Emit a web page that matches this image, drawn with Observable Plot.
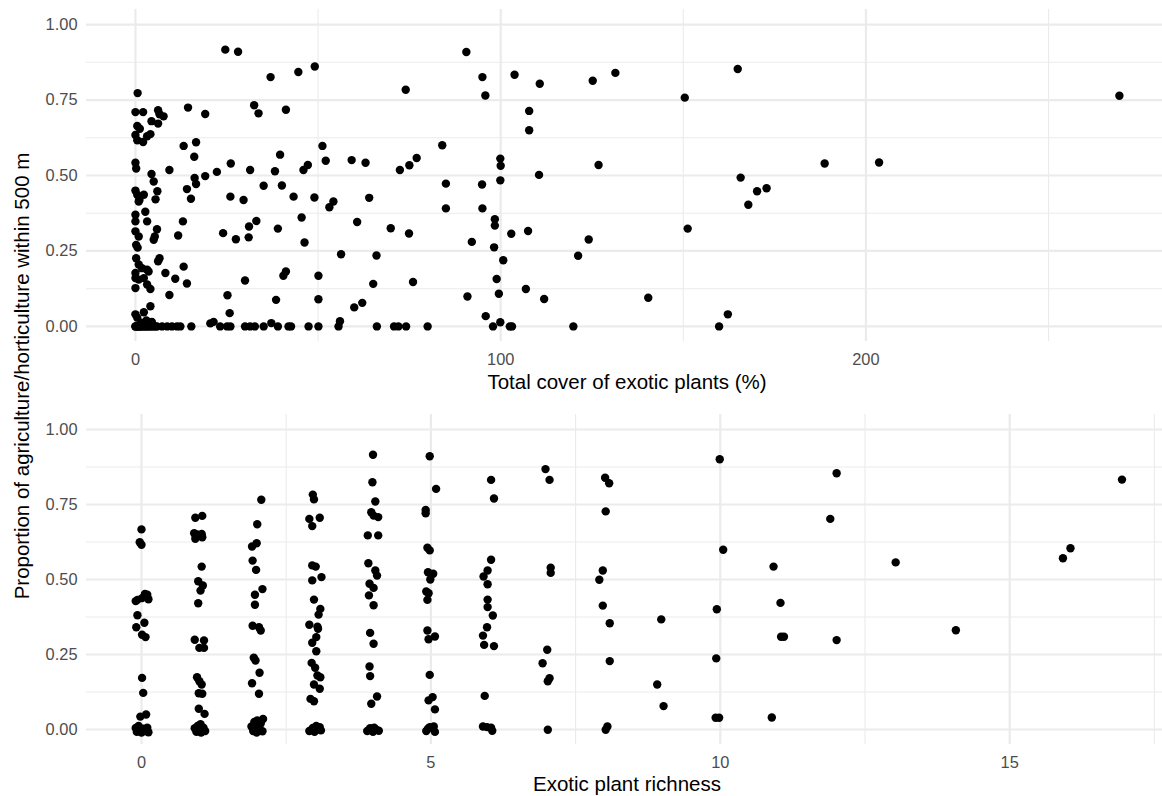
<!DOCTYPE html>
<html><head><meta charset="utf-8">
<script src="https://cdn.jsdelivr.net/npm/d3@7"></script>
<script src="https://cdn.jsdelivr.net/npm/@observablehq/plot@0.6"></script>
<style>
body{margin:0;background:#fff;}
#wrap{position:relative;width:1162px;height:796px;overflow:hidden;background:#fff;font-family:"Liberation Sans",Arial,sans-serif;}
.panel{position:absolute;left:0;}
.xt{position:absolute;font-size:20.5px;color:#000;transform:translate(-50%,-50%);white-space:nowrap;line-height:1;}
.yt{position:absolute;font-size:20.5px;color:#000;transform:translate(-50%,-50%) rotate(-90deg);white-space:nowrap;line-height:1;}
</style></head><body>
<div id="wrap">
  <div id="top" class="panel" style="top:0px"></div>
  <div id="bot" class="panel" style="top:400px"></div>
  <div class="xt" style="left:627px;top:382px">Total cover of exotic plants (%)</div>
  <div class="xt" style="left:627px;top:784px">Exotic plant richness</div>
  <div class="yt" style="left:22px;top:376px">Proportion of agriculture/horticulture within 500 m</div>
</div>
<script>
// ---- Top panel: total cover of exotic plants (%) vs proportion ----
const coverPct = [
  0.6, 24.6, 28.1, 0, 2.1, 6.2, 6.6, 7.7, 6.2, 4.4,
  14.4, 19.1, 32.5, 33.7, 0.5, 1.2, 0, 0.5, 2.1, 3.2,
  4.1, 13.2, 16.6, 16.1, 0, 0.2, 4.4, 9.3, 16.2, 19.1,
  22.3, 26.1, 31.4, 5.0, 14.1, 16.6, 0, 0.5, 1.1, 2.3,
  0.9, 6.0, 5.5, 15.2, 26.0, 29.6, 0, 0, 2.7, 3.2,
  13.0, 0, 0.9, 5.0, 5.3, 5.9, 11.7, 24.0, 27.5, 31.0,
  31.1, 0.2, 0.6, 0.2, 0.9, 1.8, 3.2, 3.6, 6.2, 6.6,
  13.2, 8.2, 10.9, 14.1, 0, 0, 0.9, 2.3, 0, 3.2,
  4.1, 30.0, 9.3, 25.2, 25.8, 4.1, 2.3, 0, 0.5, 1.5,
  3.0, 4.5, 0, 0, 0.3, 0.5, 0.8, 1.0, 1.3, 1.6,
  2.0, 2.4, 2.8, 3.2, 3.6, 4.0, 4.5, 5.0, 5.5, 5.9,
  7.3, 8.7, 10.0, 11.4, 12.3, 15.3, 20.5, 21.4, 23.2, 25.1,
  26.0, 30.0, 31.4, 32.7, 37.0, 44.6, 49.1, 74.0, 41.2, 51.2,
  39.6, 38.2, 46.0, 47.2, 52.1, 59.2, 63.0, 72.4, 75.0, 77.0,
  35.1, 40.1, 43.3, 49.0, 53.1, 54.2, 64.0, 33.1, 39.0, 45.5,
  46.3, 60.7, 69.9, 74.9, 56.3, 66.0, 40.5, 41.2, 50.1, 65.1,
  76.0, 38.5, 50.1, 59.9, 62.1, 37.2, 56.0, 35.1, 39.0, 41.9,
  42.6, 47.4, 50.1, 55.6, 66.1, 70.8, 72.0, 74.1, 80.0, 90.6,
  95.0, 95.8, 103.8, 110.7, 125.2, 131.4, 107.8, 107.8, 84.0, 99.9,
  100.0, 99.9, 110.5, 126.8, 85.0, 94.9, 85.0, 95.0, 98.4, 98.4,
  102.9, 107.5, 92.1, 98.2, 124.1, 121.2, 100.7, 98.9, 99.5, 90.9,
  106.9, 111.9, 95.9, 99.9, 97.9, 102.5, 103.1, 119.9, 164.9, 150.4,
  269.4, 188.7, 203.6, 165.7, 170.2, 172.8, 167.8, 151.2, 140.4, 162.2,
  159.8
];
const coverProp = [
  .773, .917, .910, .710, .710, .716, .703, .696, .672, .680,
  .725, .704, .733, .706, .664, .655, .634, .617, .611, .630,
  .637, .598, .610, .562, .542, .523, .505, .518, .492, .498,
  .512, .540, .518, .480, .455, .472, .450, .436, .419, .436,
  .414, .448, .421, .423, .430, .419, .370, .348, .380, .348,
  .348, .315, .298, .287, .298, .322, .301, .309, .289, .295,
  .331, .270, .261, .226, .205, .193, .188, .182, .216, .226,
  .198, .177, .158, .142, .177, .160, .155, .160, .127, .139,
  .124, .152, .104, .103, .044, .067, .047, .040, .029, .012,
  .020, .015, 0, 0, 0, 0, 0, 0, 0, 0,
  0, 0, 0, 0, 0, 0, 0, 0, 0, 0,
  0, 0, 0, 0, 0, 0, .010, .015, 0, 0,
  0, 0, 0, 0, .826, .843, .861, .784, .718, .598,
  .569, .514, .518, .535, .549, .551, .542, .518, .534, .558,
  .466, .467, .430, .427, .395, .414, .426, .349, .324, .361,
  .278, .346, .325, .308, .239, .235, .168, .182, .168, .141,
  .147, .088, .090, .063, .078, .011, .017, 0, 0, 0,
  0, 0, 0, 0, 0, 0, 0, 0, 0, .909,
  .826, .765, .834, .804, .814, .840, .714, .650, .600, .556,
  .532, .484, .502, .535, .473, .470, .391, .391, .355, .334,
  .307, .316, .280, .262, .288, .234, .219, .157, .108, .099,
  .124, .091, .034, .014, 0, 0, 0, 0, .853, .758,
  .764, .540, .543, .493, .448, .458, .403, .324, .095, .040,
  0
];

// ---- Bottom panel: exotic plant richness (jittered as drawn) vs proportion ----
const richness = [
  0.00, -0.03, 0.00, 0.06, 0.10, -0.07, -0.10, 0.01, 0.12, -0.07,
  0.05, -0.09, 0.01, 0.07, 0.01, 0.03, 0.08, -0.02, -0.10, -0.05,
  0.03, 0.10, -0.08, 0.00, 0.06, 0.12,
  0.93, 1.05, 0.91, 0.96, 1.04, 0.93, 1.05, 1.04, 0.98, 1.06,
  1.02, 0.98, 0.92, 1.08, 1.00, 1.08, 0.96, 1.00, 1.04, 0.99,
  1.05, 0.99, 1.09, 0.92, 0.97, 1.02, 1.07, 0.95, 1.03, 1.10,
  2.07, 2.00, 1.91, 1.99, 1.92, 1.98, 1.96, 2.09, 1.96, 1.92,
  2.03, 2.06, 1.94, 1.97, 2.04, 1.91, 2.03, 1.90, 1.95, 2.00,
  2.06, 2.10, 1.93, 1.99, 2.04, 2.09, 1.96,
  2.96, 2.98, 2.90, 3.08, 2.95, 2.95, 3.01, 3.11, 2.95, 2.98,
  3.09, 3.06, 2.90, 3.04, 3.05, 3.02, 2.95, 3.02, 2.94, 3.00,
  3.04, 3.09, 2.98, 3.08, 2.92, 2.98, 2.90, 2.96, 3.02, 3.08,
  3.10, 2.99,
  4.00, 3.99, 4.04, 3.97, 4.01, 4.09, 3.91, 4.09, 3.92, 4.04,
  4.07, 3.94, 4.01, 3.93, 4.01, 3.95, 4.01, 3.94, 3.95, 4.07,
  3.97, 3.90, 3.95, 4.00, 4.05, 4.10, 4.02,
  4.98, 5.09, 4.91, 4.91, 4.94, 4.98, 4.95, 5.04, 4.99, 4.92,
  4.96, 4.94, 4.94, 5.07, 4.96, 4.98, 4.96, 5.03, 5.07, 4.92,
  4.98, 5.05, 5.07, 4.95,
  6.04, 6.09, 6.04, 5.98, 5.91, 5.98, 5.98, 5.98, 6.07, 5.97,
  5.90, 5.92, 6.09, 5.93, 5.90, 5.97, 6.04, 6.06,
  6.98, 7.05, 7.07, 7.07, 7.01, 6.93, 7.05, 7.02, 7.02,
  8.01, 8.08, 8.02, 7.97, 7.91, 7.97, 8.09, 8.09, 8.05, 8.02,
  9.99, 12.01, 16.94, 11.90, 10.05, 16.05, 15.92, 10.92, 13.03, 11.04,
  9.94, 8.98, 11.05, 11.10, 12.01, 14.07, 9.93, 8.91, 9.02, 9.92,
  9.98, 10.89
];
const richProp = [
  .667, .624, .616, .452, .449, .432, .428, .438, .434, .381,
  .356, .341, .316, .308, .172, .122, .050, .043, .005, .012,
  .003, .006, -.008, -.010, -.005, -.009,
  .706, .712, .654, .650, .652, .636, .641, .543, .494, .480,
  .463, .421, .299, .297, .272, .272, .174, .161, .150, .121,
  .119, .069, .052, .004, .012, .018, .006, -.008, -.010, -.005,
  .766, .684, .610, .621, .563, .532, .449, .468, .416, .346,
  .341, .330, .239, .230, .189, .154, .119, .010, .025, .030,
  .020, .035, -.005, -.010, .000, -.006, .015,
  .783, .767, .702, .706, .678, .547, .543, .508, .497, .433,
  .402, .383, .349, .343, .336, .308, .289, .261, .222, .206,
  .180, .174, .150, .136, .102, .094, -.005, .005, .012, .008,
  -.003, -.008,
  .916, .824, .760, .724, .713, .708, .647, .647, .554, .530,
  .513, .486, .472, .447, .414, .322, .286, .210, .178, .110,
  .086, -.005, .004, -.008, .000, -.004, .006,
  .911, .802, .732, .721, .606, .597, .524, .519, .500, .460,
  .454, .432, .330, .310, .301, .182, .097, .108, .067, -.005,
  .008, .010, -.008, .003,
  .832, .770, .566, .530, .510, .484, .433, .408, .380, .341,
  .313, .282, .278, .112, .010, .008, .006, -.004,
  .868, .832, .539, .522, .266, .221, .171, .161, -.001,
  .839, .821, .727, .530, .499, .413, .354, .228, .010, -.001,
  .901, .854, .833, .702, .599, .604, .571, .543, .557, .422,
  .401, .367, .309, .309, .298, .331, .237, .150, .078, .039,
  .039, .040
];

const yMajor = [0, 0.25, 0.5, 0.75, 1];
const yMinor = [0.125, 0.375, 0.625, 0.875];
const coverMajor = [0, 100, 200];
const coverMinor = [50, 150, 250];
const richMajor = [0, 5, 10, 15];
const richMinor = [2.5, 7.5, 12.5, 17.5];

const fmt2 = d3.format(".2f");
const GRID = "#ebebeb";

function panel(xs, ys, o) {
  const data = xs.map((x, i) => ({x, y: ys[i]}));
  return Plot.plot({
    width: 1162,
    height: o.height,
    marginTop: o.mt,
    marginBottom: o.mb,
    marginLeft: 86,
    marginRight: 0,
    style: {fontFamily: '"Liberation Sans", Arial, sans-serif', color: "#4d4d4d", background: "white"},
    x: {domain: o.xdom, label: null},
    y: {domain: [-0.05, 1.05], label: null},
    marks: [
      Plot.gridX(o.xminor, {stroke: GRID, strokeOpacity: 1, strokeWidth: 1.1}),
      Plot.gridY(yMinor, {stroke: GRID, strokeOpacity: 1, strokeWidth: 1.1}),
      Plot.gridX(o.xmajor, {stroke: GRID, strokeOpacity: 1, strokeWidth: 2.2}),
      Plot.gridY(yMajor, {stroke: GRID, strokeOpacity: 1, strokeWidth: 2.2}),
      Plot.axisX(o.xmajor, {tickSize: 0, tickPadding: 12, fontSize: 16.4, label: null}),
      Plot.axisY(yMajor, {tickSize: 0, tickPadding: 9, fontSize: 16.4, tickFormat: fmt2, label: null}),
      Plot.dot(data, {x: "x", y: "y", r: 4.2, fill: "black", stroke: "none"})
    ]
  });
}

document.getElementById("top").append(panel(coverPct, coverProp, {
  height: 400, mt: 9, mb: 59, xdom: [-13.4, 281.2], xmajor: coverMajor, xminor: coverMinor
}));
document.getElementById("bot").append(panel(richness, richProp, {
  height: 396, mt: 14, mb: 52, xdom: [-0.95, 17.64], xmajor: richMajor, xminor: richMinor
}));
</script>
</body></html>
